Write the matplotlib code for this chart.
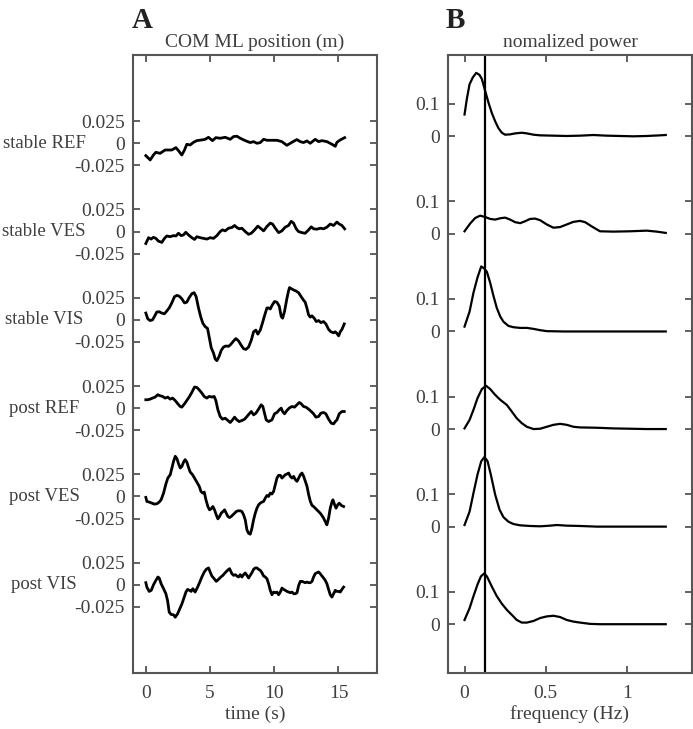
import matplotlib
matplotlib.use("Agg")
import matplotlib.pyplot as plt
import matplotlib.transforms as mtransforms
import numpy as np

plt.rcParams['font.family'] = ['Liberation Serif', 'DejaVu Serif']

# condition names (top to bottom)
conditions = ["stable REF", "stable VES", "stable VIS", "post REF", "post VES", "post VIS"]

# ---- A: COM ML position (m) vs time (s) ----
t_stable_ref = [0, 0.34, 0.59, 0.78, 1.11, 1.50, 1.76, 2.02, 2.34, 2.54, 2.80, 3.01, 3.19, 3.45, 3.71, 3.97,
                4.36, 4.62, 4.88, 5.19, 5.45, 5.79, 6.18, 6.57, 6.83, 7.09, 7.35, 7.74, 8.13, 8.39, 8.65, 8.91,
                9.17, 9.43, 9.82, 10.21, 10.59, 10.98, 11.37, 11.76, 12.02, 12.28, 12.54, 12.80, 13.19, 13.45,
                13.71, 14.10, 14.49, 14.75, 14.88, 15.14, 15.48]
com_stable_ref = [-0.0140, -0.0189, -0.0133, -0.0102, -0.0114, -0.0076, -0.0076, -0.0076, -0.0049, -0.0083,
                  -0.0133, -0.0076, -0.0011, -0.0019, 0.0011, 0.0030, 0.0038, 0.0045, 0.0068, 0.0030, 0.0064,
                  0.0057, 0.0068, 0.0045, 0.0076, 0.0080, 0.0057, 0.0030, 0.0008, 0.0019, 0.0, 0.0008, 0.0045,
                  0.0034, 0.0034, 0.0034, 0.0019, -0.0023, 0.0011, 0.0042, 0.0019, 0.0008, 0.0027, 0.0, 0.0045,
                  0.0019, 0.0030, 0.0019, -0.0011, -0.0034, 0.0011, 0.0038, 0.0064]

t_stable_ves = [0, 0.21, 0.41, 0.59, 0.78, 0.98, 1.24, 1.45, 1.63, 1.89, 2.15, 2.34, 2.54, 2.75, 2.93, 3.11,
                3.32, 3.58, 3.79, 3.97, 4.23, 4.49, 4.75, 5.01, 5.27, 5.53, 5.79, 5.97, 6.18, 6.44, 6.70, 6.91,
                7.09, 7.27, 7.48, 7.74, 8.00, 8.21, 8.47, 8.72, 8.98, 9.17, 9.43, 9.69, 9.87, 10.08, 10.34,
                10.59, 10.85, 11.11, 11.32, 11.50, 11.71, 11.89, 12.15, 12.41, 12.67, 12.88, 13.06, 13.32,
                13.58, 13.84, 14.10, 14.36, 14.62, 14.88, 15.06, 15.27, 15.48]
com_stable_ves = [-0.0135, -0.0069, -0.0085, -0.0065, -0.0077, -0.0108, -0.0123, -0.0077, -0.0050, -0.0058,
                  -0.0046, -0.0050, -0.0019, -0.0046, -0.0038, -0.0008, -0.0038, -0.0069, -0.0089, -0.0058,
                  -0.0069, -0.0077, -0.0085, -0.0069, -0.0077, -0.0046, 0.0, 0.0019, 0.0008, 0.0038, 0.0046,
                  0.0069, 0.0046, 0.0031, 0.0038, 0.0, -0.0031, -0.0019, 0.0019, 0.0062, 0.0031, 0.0008, 0.0058,
                  0.0096, 0.0085, 0.0038, -0.0012, 0.0008, 0.0050, 0.0069, 0.0116, 0.0096, 0.0031, 0.0, -0.0012,
                  -0.0019, 0.0019, 0.0054, 0.0031, 0.0027, 0.0038, 0.0031, 0.0050, 0.0085, 0.0069, 0.0108,
                  0.0085, 0.0069, 0.0031]

t_stable_vis = [0, 0.15, 0.33, 0.52, 0.67, 0.85, 1.04, 1.24, 1.45, 1.63, 1.82, 2.02, 2.23, 2.41, 2.59, 2.80,
                3.01, 3.19, 3.37, 3.58, 3.76, 3.92, 4.10, 4.28, 4.44, 4.62, 4.80, 4.93, 5.09, 5.27, 5.40, 5.53,
                5.71, 5.87, 6.05, 6.23, 6.44, 6.62, 6.83, 7.01, 7.22, 7.43, 7.61, 7.79, 8.00, 8.21, 8.39, 8.57,
                8.72, 8.91, 9.09, 9.24, 9.43, 9.56, 9.69, 9.82, 10.02, 10.21, 10.39, 10.54, 10.65, 10.80, 10.98,
                11.11, 11.19, 11.32, 11.50, 11.69, 11.89, 12.10, 12.28, 12.41, 12.54, 12.67, 12.80, 12.93,
                13.11, 13.27, 13.45, 13.63, 13.84, 14.02, 14.23, 14.41, 14.62, 14.75, 14.88, 15.01, 15.14,
                15.27, 15.45]
com_stable_vis = [0.0077, 0.0012, -0.0008, 0.0, 0.0038, 0.0089, 0.0092, 0.0077, 0.0069, 0.0100, 0.0135,
                  0.0192, 0.0262, 0.0277, 0.0269, 0.0239, 0.0192, 0.0200, 0.0250, 0.0296, 0.0308, 0.0262,
                  0.0135, 0.0031, -0.0038, -0.0077, -0.0096, -0.0192, -0.0316, -0.0377, -0.0443, -0.0462,
                  -0.0412, -0.0346, -0.0308, -0.0296, -0.0300, -0.0277, -0.0239, -0.0212, -0.0239, -0.0289,
                  -0.0327, -0.0335, -0.0308, -0.0231, -0.0135, -0.0116, -0.0162, -0.0116, -0.0031, 0.0046,
                  0.0135, 0.0135, 0.0123, 0.0162, 0.0208, 0.0200, 0.0154, 0.0038, 0.0019, 0.0096, 0.0239,
                  0.0327, 0.0366, 0.0354, 0.0339, 0.0327, 0.0308, 0.0262, 0.0223, 0.0200, 0.0135, 0.0058,
                  0.0031, 0.0046, 0.0019, -0.0019, -0.0008, -0.0031, -0.0019, -0.0046, -0.0108, -0.0135,
                  -0.0146, -0.0135, -0.0154, -0.0181, -0.0135, -0.0108, -0.0046]

t_post_ref = [0, 0.15, 0.33, 0.52, 0.72, 0.93, 1.11, 1.30, 1.50, 1.71, 1.89, 2.08, 2.28, 2.49, 2.67, 2.80,
              3.01, 3.19, 3.37, 3.58, 3.79, 3.97, 4.15, 4.36, 4.54, 4.75, 4.93, 5.14, 5.32, 5.45, 5.61, 5.79,
              5.97, 6.18, 6.39, 6.57, 6.75, 6.91, 7.09, 7.27, 7.48, 7.69, 7.87, 8.05, 8.21, 8.39, 8.57, 8.78,
              8.98, 9.11, 9.24, 9.37, 9.56, 9.82, 10.02, 10.21, 10.39, 10.54, 10.65, 10.80, 10.98, 11.16,
              11.37, 11.58, 11.76, 11.95, 12.10, 12.28, 12.47, 12.67, 12.88, 13.06, 13.24, 13.45, 13.63,
              13.84, 14.02, 14.23, 14.44, 14.62, 14.75, 14.88, 15.06, 15.27, 15.45]
com_post_ref = [0.0095, 0.0095, 0.0102, 0.0114, 0.0125, 0.0152, 0.0140, 0.0133, 0.0114, 0.0125, 0.0102,
                0.0114, 0.0087, 0.0049, 0.0019, 0.0011, 0.0049, 0.0087, 0.0125, 0.0178, 0.0239, 0.0235,
                0.0208, 0.0171, 0.0133, 0.0114, 0.0133, 0.0125, 0.0133, 0.0087, -0.0019, -0.0095, -0.0125,
                -0.0114, -0.0140, -0.0163, -0.0133, -0.0102, -0.0133, -0.0152, -0.0140, -0.0125, -0.0095,
                -0.0064, -0.0038, -0.0076, -0.0057, -0.0011, 0.0038, 0.0019, -0.0057, -0.0133, -0.0152,
                -0.0133, -0.0064, -0.0049, -0.0019, 0.0, -0.0038, -0.0064, -0.0027, 0.0, 0.0019, 0.0011,
                0.0038, 0.0064, 0.0049, 0.0019, 0.0011, -0.0011, -0.0038, -0.0064, -0.0102, -0.0095, -0.0057,
                -0.0049, -0.0064, -0.0125, -0.0171, -0.0178, -0.0152, -0.0133, -0.0064, -0.0038, -0.0038]

t_post_ves = [0, 0.08, 0.26, 0.47, 0.65, 0.86, 1.04, 1.19, 1.38, 1.56, 1.71, 1.90, 2.03, 2.16, 2.29, 2.42,
              2.55, 2.68, 2.81, 2.94, 3.06, 3.19, 3.32, 3.45, 3.64, 3.79, 3.97, 4.16, 4.29, 4.42, 4.55, 4.68,
              4.83, 4.96, 5.09, 5.22, 5.35, 5.48, 5.61, 5.74, 5.87, 6.00, 6.13, 6.26, 6.39, 6.52, 6.65, 6.78,
              6.91, 7.04, 7.17, 7.35, 7.48, 7.61, 7.74, 7.87, 8.00, 8.13, 8.26, 8.39, 8.52, 8.65, 8.78, 8.91,
              9.04, 9.17, 9.30, 9.43, 9.56, 9.69, 9.82, 9.95, 10.08, 10.21, 10.34, 10.47, 10.60, 10.73, 10.86,
              10.99, 11.12, 11.25, 11.38, 11.51, 11.64, 11.77, 11.90, 12.03, 12.16, 12.29, 12.42, 12.55,
              12.68, 12.81, 12.94, 13.06, 13.19, 13.32, 13.45, 13.58, 13.71, 13.84, 13.97, 14.10, 14.23,
              14.36, 14.49, 14.57, 14.70, 14.81, 14.94, 15.06, 15.22, 15.40]
com_post_ves = [-0.0011, -0.0057, -0.0064, -0.0076, -0.0087, -0.0083, -0.0064, -0.0038, 0.0038, 0.0140,
                0.0208, 0.0246, 0.0322, 0.0398, 0.0455, 0.0428, 0.0368, 0.0322, 0.0341, 0.0390, 0.0417,
                0.0390, 0.0330, 0.0277, 0.0246, 0.0208, 0.0163, 0.0114, 0.0057, 0.0038, 0.0049, -0.0038,
                -0.0114, -0.0152, -0.0140, -0.0114, -0.0152, -0.0208, -0.0254, -0.0227, -0.0190, -0.0171,
                -0.0152, -0.0190, -0.0227, -0.0239, -0.0227, -0.0208, -0.0190, -0.0171, -0.0163, -0.0163,
                -0.0171, -0.0208, -0.0265, -0.0379, -0.0417, -0.0428, -0.0360, -0.0265, -0.0190, -0.0133,
                -0.0095, -0.0076, -0.0064, -0.0057, -0.0019, 0.0011, 0.0, 0.0038, 0.0027, 0.0057, 0.0133,
                0.0208, 0.0239, 0.0239, 0.0208, 0.0227, 0.0246, 0.0254, 0.0265, 0.0227, 0.0208, 0.0227,
                0.0190, 0.0171, 0.0208, 0.0246, 0.0265, 0.0227, 0.0171, 0.0114, 0.0019, -0.0057, -0.0102,
                -0.0114, -0.0133, -0.0152, -0.0171, -0.0190, -0.0216, -0.0246, -0.0284, -0.0322, -0.0246,
                -0.0133, -0.0064, -0.0038, -0.0095, -0.0133, -0.0095, -0.0076, -0.0102, -0.0114]

t_post_vis = [0, 0.08, 0.26, 0.42, 0.60, 0.78, 0.94, 1.04, 1.19, 1.38, 1.56, 1.69, 1.82, 1.97, 2.16, 2.29,
              2.47, 2.62, 2.81, 2.99, 3.12, 3.25, 3.40, 3.53, 3.66, 3.84, 4.03, 4.18, 4.36, 4.55, 4.70, 4.88,
              5.01, 5.14, 5.32, 5.48, 5.66, 5.84, 6.00, 6.18, 6.36, 6.52, 6.70, 6.83, 6.96, 7.09, 7.22, 7.35,
              7.48, 7.61, 7.74, 7.87, 8.00, 8.13, 8.26, 8.39, 8.52, 8.65, 8.78, 8.91, 9.04, 9.17, 9.30, 9.43,
              9.56, 9.69, 9.82, 9.95, 10.08, 10.21, 10.34, 10.47, 10.60, 10.73, 10.86, 10.99, 11.12, 11.25,
              11.38, 11.51, 11.64, 11.77, 11.90, 12.03, 12.16, 12.29, 12.42, 12.55, 12.68, 12.81, 12.94,
              13.06, 13.19, 13.32, 13.45, 13.58, 13.71, 13.84, 13.97, 14.10, 14.23, 14.36, 14.49, 14.62,
              14.75, 14.88, 15.01, 15.14, 15.27, 15.40]
com_post_vis = [0.0023, -0.0027, -0.0076, -0.0064, 0.0, 0.0049, 0.0087, 0.0076, 0.0011, -0.0045, -0.0102,
                -0.0178, -0.0311, -0.0337, -0.0341, -0.0368, -0.0330, -0.0280, -0.0216, -0.0140, -0.0083,
                -0.0053, -0.0064, -0.0076, -0.0045, -0.0083, -0.0027, 0.0023, 0.0087, 0.0144, 0.0174, 0.0190,
                0.0144, 0.0099, 0.0068, 0.0038, 0.0061, 0.0087, 0.0106, 0.0136, 0.0163, 0.0182, 0.0125,
                0.0106, 0.0114, 0.0099, 0.0087, 0.0114, 0.0087, 0.0114, 0.0133, 0.0106, 0.0076, 0.0106,
                0.0136, 0.0174, 0.0190, 0.0190, 0.0174, 0.0163, 0.0136, 0.0099, 0.0087, 0.0068, 0.0011,
                -0.0064, -0.0114, -0.0083, -0.0091, -0.0083, -0.0114, -0.0083, -0.0038, -0.0053, -0.0064,
                -0.0076, -0.0083, -0.0091, -0.0083, -0.0102, -0.0102, -0.0091, -0.0008, 0.0038, 0.0038,
                0.0030, 0.0023, 0.0030, 0.0023, 0.0023, 0.0038, 0.0087, 0.0125, 0.0136, 0.0144, 0.0125,
                0.0099, 0.0076, 0.0049, 0.0011, -0.0053, -0.0114, -0.0140, -0.0102, -0.0064, -0.0076,
                -0.0076, -0.0083, -0.0053, -0.0027]

# ---- B: normalized power vs frequency (Hz) ----
f_stable_ref = [0, 0.014, 0.031, 0.051, 0.072, 0.092, 0.107, 0.127, 0.148, 0.168, 0.189, 0.209, 0.230, 0.250,
                0.281, 0.312, 0.353, 0.384, 0.425, 0.466, 0.548, 0.630, 0.712, 0.794, 0.876, 0.959, 1.041,
                1.123, 1.205, 1.240]
p_stable_ref = [0.067, 0.114, 0.160, 0.181, 0.195, 0.189, 0.176, 0.140, 0.103, 0.072, 0.046, 0.025, 0.011,
                0.005, 0.006, 0.009, 0.011, 0.009, 0.005, 0.003, 0.002, 0.001, 0.002, 0.004, 0.002, 0.001,
                0.0, 0.001, 0.003, 0.004]

f_stable_ves = [0, 0.035, 0.066, 0.096, 0.127, 0.158, 0.189, 0.220, 0.250, 0.281, 0.312, 0.343, 0.374, 0.404,
                0.435, 0.466, 0.507, 0.548, 0.589, 0.630, 0.671, 0.712, 0.743, 0.784, 0.835, 0.917, 1.020,
                1.123, 1.184, 1.240]
p_stable_ves = [0.008, 0.032, 0.049, 0.056, 0.052, 0.046, 0.044, 0.048, 0.050, 0.044, 0.036, 0.033, 0.039,
                0.046, 0.047, 0.042, 0.029, 0.019, 0.021, 0.029, 0.037, 0.040, 0.036, 0.023, 0.008, 0.007,
                0.008, 0.010, 0.007, 0.003]

f_stable_vis = [0, 0.031, 0.055, 0.080, 0.103, 0.121, 0.138, 0.158, 0.179, 0.199, 0.220, 0.240, 0.271, 0.302,
                0.343, 0.384, 0.425, 0.466, 0.507, 0.610, 0.815, 1.020, 1.240]
p_stable_vis = [0.015, 0.061, 0.119, 0.166, 0.200, 0.194, 0.183, 0.150, 0.108, 0.072, 0.046, 0.030, 0.017,
                0.013, 0.011, 0.011, 0.008, 0.004, 0.001, 0.0, 0.0, 0.0, 0.0]

f_post_ref = [0, 0.031, 0.055, 0.080, 0.107, 0.133, 0.158, 0.189, 0.220, 0.261, 0.291, 0.322, 0.353, 0.384,
              0.425, 0.466, 0.507, 0.548, 0.589, 0.630, 0.671, 0.712, 0.815, 0.917, 1.020, 1.123, 1.240]
p_post_ref = [0.002, 0.028, 0.059, 0.095, 0.123, 0.133, 0.123, 0.105, 0.090, 0.074, 0.054, 0.033, 0.018,
              0.007, 0.0, 0.001, 0.007, 0.013, 0.016, 0.013, 0.007, 0.005, 0.004, 0.002, 0.001, 0.0, 0.0]

f_post_ves = [0, 0.031, 0.055, 0.080, 0.103, 0.123, 0.142, 0.162, 0.189, 0.216, 0.240, 0.271, 0.302, 0.343,
              0.404, 0.466, 0.528, 0.569, 0.630, 0.712, 0.815, 1.020, 1.240]
p_post_ves = [0.005, 0.046, 0.103, 0.160, 0.201, 0.214, 0.201, 0.160, 0.098, 0.052, 0.029, 0.015, 0.008,
              0.004, 0.002, 0.001, 0.003, 0.005, 0.003, 0.002, 0.0, 0.0, 0.0]

f_post_vis = [0, 0.031, 0.055, 0.080, 0.101, 0.121, 0.138, 0.168, 0.199, 0.230, 0.261, 0.291, 0.322, 0.353,
              0.384, 0.425, 0.466, 0.507, 0.548, 0.589, 0.630, 0.671, 0.712, 0.774, 0.835, 0.917, 1.020,
              1.123, 1.240]
p_post_vis = [0.013, 0.049, 0.086, 0.122, 0.147, 0.156, 0.147, 0.116, 0.086, 0.063, 0.044, 0.029, 0.013,
              0.005, 0.005, 0.010, 0.019, 0.024, 0.026, 0.022, 0.013, 0.008, 0.005, 0.001, 0.0, 0.0, 0.0,
              0.0, 0.0]

f_marker = 0.125  # vertical reference line (Hz)

com_t = [t_stable_ref, t_stable_ves, t_stable_vis, t_post_ref, t_post_ves, t_post_vis]
com_y = [com_stable_ref, com_stable_ves, com_stable_vis, com_post_ref, com_post_ves, com_post_vis]
pow_f = [f_stable_ref, f_stable_ves, f_stable_vis, f_post_ref, f_post_ves, f_post_vis]
pow_p = [p_stable_ref, p_stable_ves, p_stable_vis, p_post_ref, p_post_ves, p_post_vis]

txt = '#3f3f3f'
spine_c = '#555555'
fs = 14

fig = plt.figure(figsize=(6.93, 7.29), dpi=100)
axA = fig.add_axes([133 / 693, 1 - 673 / 729, 244 / 693, 618 / 729])
axB = fig.add_axes([448.3 / 693, 1 - 673 / 729, 243.4 / 693, 618 / 729])

offA = [0.6, 0.5, 0.4, 0.3, 0.2, 0.1]
offB = [1.5, 1.2, 0.9, 0.6, 0.3, 0.0]

ytA, ylA = [], []
ytB, ylB = [], []
for i in range(6):
    axA.plot(com_t[i], np.array(com_y[i]) + offA[i], color='k', lw=2.0)
    axB.plot(pow_f[i], np.array(pow_p[i]) + offB[i], color='k', lw=1.6)
    ytA += [offA[i] - 0.025, offA[i], offA[i] + 0.025]
    ylA += ['-0.025', '0', '0.025']
    ytB += [offB[i], offB[i] + 0.1]
    ylB += ['0', '0.1']

axB.axvline(f_marker, color='k', lw=1.6)

axA.set_xlim(-1, 18)
axA.set_ylim(0, 0.7)
axA.set_xticks([0, 5, 10, 15])
axA.set_xticklabels(['0', '5', '10', '15'])
axA.set_yticks(ytA)
axA.set_yticklabels(ylA)

axB.set_xlim(-0.1, 1.4)
axB.set_ylim(-0.15, 1.75)
axB.set_xticks([0, 0.5, 1])
axB.set_xticklabels(['0', '0.5', '1'])
axB.set_yticks(ytB)
axB.set_yticklabels(ylB)

for ax in (axA, axB):
    for s in ax.spines.values():
        s.set_color(spine_c)
        s.set_linewidth(1.5)
    ax.tick_params(direction='in', length=5, width=1.3, color=spine_c, labelcolor=txt,
                   labelsize=fs, top=True, right=True, pad=6)
    ax.tick_params(axis='x', pad=9)

axA.set_title('COM ML position (m)', fontsize=fs, color=txt, pad=6)
axB.set_title('nomalized power', fontsize=fs, color=txt, pad=6)
axA.set_xlabel('time (s)', fontsize=fs, color=txt, labelpad=2)
axB.set_xlabel('frequency (Hz)', fontsize=fs, color=txt, labelpad=2)

fig.text(132 / 693, 1 - 28 / 729, 'A', fontsize=21, fontweight='bold', color='#222222', va='baseline')
fig.text(446 / 693, 1 - 28 / 729, 'B', fontsize=21, fontweight='bold', color='#222222', va='baseline')

trans = mtransforms.blended_transform_factory(fig.transFigure, axA.transData)
for i, name in enumerate(conditions):
    axA.text(44 / 693, offA[i], name, transform=trans, ha='center', va='center',
             fontsize=13.5, color=txt)

fig.savefig('out.png', dpi=100)
